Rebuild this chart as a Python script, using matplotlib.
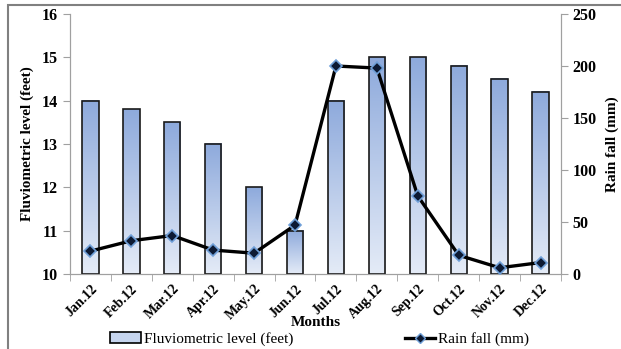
import matplotlib
matplotlib.use("Agg")
import matplotlib.pyplot as plt
import numpy as np
from matplotlib.colors import LinearSegmentedColormap
from matplotlib.patches import Rectangle, Patch
from matplotlib.lines import Line2D

months = ["Jan.12", "Feb.12", "Mar.12", "Apr.12", "May.12", "Jun.12",
          "Jul.12", "Aug.12", "Sep.12", "Oct.12", "Nov.12", "Dec.12"]
level_ft = [14, 13.8, 13.5, 13, 12, 11, 14, 15, 15, 14.8, 14.5, 14.2]
rain_mm = [22, 32, 37, 23, 20, 47, 200, 198, 75, 18, 6, 11]

plt.rcParams['font.family'] = ['Liberation Serif', 'DejaVu Serif']

fig = plt.figure(figsize=(6.21, 3.49), dpi=100)
ax = fig.add_axes([0.1127, 0.2149, 0.7907, 0.745])
ax2 = ax.twinx()

x = np.arange(len(months))
bar_w = 0.4
grad = LinearSegmentedColormap.from_list("bar", ["#e4ebf7", "#8eaadc"])
g = np.linspace(0, 1, 100).reshape(-1, 1)

# bar outlines, then a vertical gradient fill inside each bar
bars = ax.bar(x, np.array(level_ft) - 10, bar_w, bottom=10,
              facecolor="none", edgecolor="#1a1a1a", linewidth=1.2, zorder=3)
for xi, h in zip(x, level_ft):
    ax.imshow(g, cmap=grad, origin="lower", aspect="auto", zorder=2,
              extent=[xi - bar_w / 2, xi + bar_w / 2, 10, h])

ax.set_xlim(-0.5, len(months) - 0.5)
ax.set_ylim(10, 16)
ax.set_yticks(range(10, 17))
ax2.set_ylim(0, 250)
ax2.set_yticks(range(0, 251, 50))

ax2.plot(x, rain_mm, color="black", linewidth=2.4, zorder=4,
         marker="D", markersize=6, markerfacecolor="#0d1a33",
         markeredgecolor="#6f9fd8", markeredgewidth=1.2)

ax.set_xticks(x)
ax.set_xticklabels(months, rotation=45, ha="right", rotation_mode="anchor",
                   fontsize=10, fontweight="bold")
ax.set_xticks(np.arange(-0.5, len(months)), minor=True)
ax.tick_params(axis="x", which="major", length=0, pad=6)
ax.tick_params(axis="x", which="minor", length=5, color="#a0a0a0", direction="out")

for a in (ax, ax2):
    for side in ("left", "right", "bottom"):
        a.spines[side].set_color("#a0a0a0")
    a.spines["top"].set_visible(False)
    a.tick_params(axis="y", length=5, color="#a0a0a0", labelsize=11.5)
    for lab in a.get_yticklabels():
        lab.set_fontweight("bold")

ax.set_ylabel("Fluviometric level (feet)", fontsize=11, fontweight="bold", labelpad=6)
ax2.set_ylabel("Rain fall (mm)", fontsize=11, fontweight="bold", labelpad=6)
ax.set_xlabel("Months", fontsize=11, fontweight="bold", labelpad=-5)

handles = [Patch(facecolor="#c5d4ee", edgecolor="black", linewidth=1.2),
           Line2D([0], [0], color="black", linewidth=2.4, marker="D",
                  markersize=5, markerfacecolor="#0d1a33", markeredgecolor="#6f9fd8")]
fig.legend(handles, ["Fluviometric level (feet)", "Rain fall (mm)"],
           loc="center", bbox_to_anchor=(0.515, 0.028), ncol=2, frameon=False,
           fontsize=11, columnspacing=7.3, handlelength=2.0, handletextpad=0.2)

# outer chart border
fig.patches.append(Rectangle((8 / 621, -0.1), 1.2, 1.1 - 5 / 349,
                             transform=fig.transFigure, fill=False,
                             edgecolor="#808080", linewidth=1.5))

fig.savefig("out.png", dpi=100)
